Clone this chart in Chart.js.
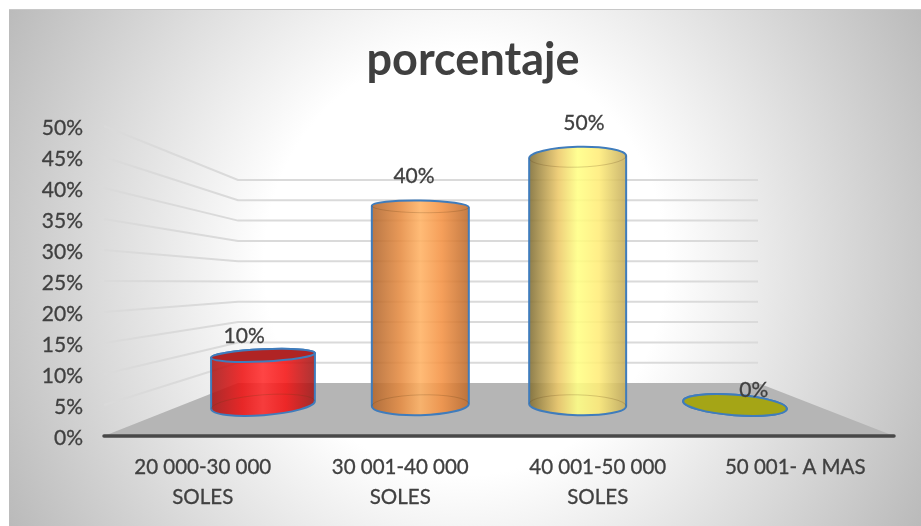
<!DOCTYPE html>
<html>
<head>
<meta charset="utf-8">
<title>porcentaje</title>
<script src="https://cdn.jsdelivr.net/npm/chart.js@4/dist/chart.umd.js"></script>
<style>
  body { margin: 0; background: #fff; }
  canvas { display: block; }
</style>
</head>
<body>
<canvas id="grafico" width="921" height="526"></canvas>
<script>
// Datos
var titulo = 'porcentaje';
var categorias = [['20 000-30 000', 'SOLES'], ['30 001-40 000', 'SOLES'], ['40 001-50 000', 'SOLES'], '50 001- A MAS'];
var valores = [10, 40, 50, 0];

// Colores de cada cilindro
var gradientes = [
  ['#a81818', '#ee1414', '#ff2c2c', '#f41414', '#a01818'],
  ['#b0652c', '#e68c42', '#ffb264', '#f49244', '#bc6a2c'],
  ['#7f6d34', '#ecc868', '#ffff84', '#ffec78', '#c4ac5c'],
  ['#a5a516', '#a5a516', '#a5a516', '#a5a516', '#a5a516']
];
var coloresTapa = ['#b02424', '#ffa050', '#ffe680', '#a5a516'];
var azulBorde = '#3f7cbc';
var colorTexto = '#404040';
var fuente = 'Lato, "Open Sans", sans-serif';

// Fondo con degradado radial
var fondoPlugin = {
  id: 'fondo',
  beforeDraw: function (chart) {
    var ctx = chart.ctx;
    ctx.save();
    ctx.fillStyle = '#fff';
    ctx.fillRect(0, 0, chart.width, chart.height);
    ctx.beginPath();
    ctx.rect(9, 9, chart.width - 9, chart.height - 9);
    ctx.clip();
    ctx.save();
    ctx.translate(465, 263);
    ctx.scale(480, 508);
    var g = ctx.createRadialGradient(0, 0, 0, 0, 0, 1.1);
    g.addColorStop(0, '#fff');
    g.addColorStop(0.38, '#fff');
    g.addColorStop(1, '#b8b8b8');
    ctx.fillStyle = g;
    ctx.fillRect(-2, -2, 4, 4);
    ctx.restore();
    ctx.fillStyle = '#bcbcbc';
    ctx.fillRect(9, 9, 1, chart.height);
    ctx.fillStyle = '#c8c8c8';
    ctx.fillRect(9, 9, chart.width, 1);
    ctx.restore();
  }
};

// Paredes y piso en perspectiva, sacados de las escalas
var paredesPlugin = {
  id: 'paredes',
  beforeDatasetsDraw: function (chart) {
    var ctx = chart.ctx;
    var area = chart.chartArea;
    var frente = chart.scales.y;
    var fondo = chart.scales.yFondo;
    var xIzq = 238, xDer = 758;

    ctx.save();
    ctx.strokeStyle = '#dadada';
    ctx.lineWidth = 2;
    frente.ticks.forEach(function (t) {
      if (t.value === 0) return;
      ctx.beginPath();
      ctx.moveTo(area.left, frente.getPixelForValue(t.value));
      ctx.lineTo(xIzq, fondo.getPixelForValue(t.value));
      ctx.lineTo(xDer, fondo.getPixelForValue(t.value));
      ctx.stroke();
    });

    // piso
    ctx.fillStyle = '#b5b5b5';
    ctx.beginPath();
    ctx.moveTo(area.left, frente.getPixelForValue(0));
    ctx.lineTo(xIzq, fondo.getPixelForValue(0));
    ctx.lineTo(xDer, fondo.getPixelForValue(0));
    ctx.lineTo(area.right, frente.getPixelForValue(0));
    ctx.closePath();
    ctx.fill();

    // eje frontal
    ctx.strokeStyle = '#484848';
    ctx.lineWidth = 3.5;
    ctx.lineCap = 'round';
    ctx.beginPath();
    ctx.moveTo(area.left, frente.getPixelForValue(0));
    ctx.lineTo(area.right, frente.getPixelForValue(0));
    ctx.stroke();
    ctx.restore();
  }
};

// Etiquetas de valor encima de cada cilindro
var etiquetasPlugin = {
  id: 'etiquetas',
  afterDatasetsDraw: function (chart) {
    var ctx = chart.ctx;
    var xc = (chart.chartArea.left + chart.chartArea.right) / 2;
    ctx.save();
    ctx.font = '21px ' + fuente;
    ctx.fillStyle = colorTexto;
    ctx.strokeStyle = colorTexto;
    ctx.lineWidth = 0.3;
    ctx.textAlign = 'center';
    ctx.textBaseline = 'middle';
    chart.getDatasetMeta(0).data.forEach(function (el, i) {
      var x = el.x + (el.x - xc) * 0.08;
      var y = el.y - 15 - (el.base - el.y) * 0.077;
      ctx.fillText(valores[i] + '%', x, y);
      ctx.strokeText(valores[i] + '%', x, y);
    });
    ctx.restore();
  }
};

function dibujaCilindro(ctx, el, i, chart) {
  var xc = (chart.chartArea.left + chart.chartArea.right) / 2;
  var ojo = chart.scales.y.getPixelForValue(25);
  var rx = el.width / 2 + (Math.abs(el.x - xc) > 200 ? 3.5 : 0);
  var radioY = function (py) { return Math.abs(py - ojo) * 0.082; };
  var giro = function (py) { return 1.5e-4 * (el.x - xc) * (py - ojo) * Math.PI / 180; };
  var arriba = el.y, abajo = el.base;

  var g = ctx.createLinearGradient(el.x - rx, 0, el.x + rx, 0);
  gradientes[i].forEach(function (c, k) {
    g.addColorStop([0, 0.3, 0.5, 0.72, 1][k], c);
  });

  ctx.save();
  ctx.lineWidth = 2;
  ctx.strokeStyle = azulBorde;

  ctx.beginPath();
  ctx.ellipse(el.x, arriba, rx, radioY(arriba), giro(arriba), Math.PI, 2 * Math.PI);
  ctx.ellipse(el.x, abajo, rx, radioY(abajo), giro(abajo), 0, Math.PI);
  ctx.closePath();
  ctx.globalAlpha = 0.88;
  ctx.fillStyle = g;
  ctx.fill();
  ctx.globalAlpha = 1;
  ctx.stroke();

  // arcos interiores tenues
  ctx.lineWidth = 1;
  ctx.strokeStyle = 'rgba(90,60,20,0.22)';
  if (abajo > arriba) {
    ctx.beginPath();
    ctx.ellipse(el.x, abajo, rx, radioY(abajo), giro(abajo), Math.PI, 2 * Math.PI);
    ctx.stroke();
  }
  if (arriba < ojo) {
    ctx.beginPath();
    ctx.ellipse(el.x, arriba, rx, radioY(arriba), giro(arriba), 0, Math.PI);
    ctx.stroke();
  } else {
    // tapa vista desde arriba
    ctx.lineWidth = 2;
    ctx.strokeStyle = azulBorde;
    ctx.fillStyle = coloresTapa[i];
    ctx.beginPath();
    ctx.ellipse(el.x, arriba, rx, radioY(arriba), giro(arriba), 0, 2 * Math.PI);
    ctx.fill();
    ctx.stroke();
  }
  ctx.restore();
}

// Controlador de barras que pinta cilindros
class CilindroController extends Chart.BarController {
  draw() {
    var chart = this.chart;
    this.getMeta().data.forEach(function (el, i) {
      dibujaCilindro(chart.ctx, el, i, chart);
    });
  }
}
CilindroController.id = 'cilindro';
CilindroController.defaults = Chart.BarController.defaults;
Chart.register(CilindroController);

new Chart(document.getElementById('grafico'), {
  type: 'cilindro',
  data: {
    labels: categorias,
    datasets: [{
      data: valores.map(function (v, i) { return { x: i, y: v }; }),
      xAxisID: 'xBarras',
      yAxisID: 'yBarras',
      barThickness: 97
    }]
  },
  options: {
    responsive: false,
    animation: false,
    layout: { padding: { left: 25 } },
    plugins: {
      legend: { display: false },
      tooltip: { enabled: false },
      title: {
        display: true,
        text: titulo,
        color: colorTexto,
        font: { family: fuente, size: 45, weight: 'bold', lineHeight: 1.2 },
        padding: { top: 33, bottom: 39 }
      }
    },
    scales: {
      x: {
        type: 'category',
        labels: categorias,
        offset: true,
        grid: { display: false },
        border: { display: false },
        ticks: {
          color: colorTexto,
          font: { family: fuente, size: 20.5, lineHeight: 1.47 },
          textStrokeColor: colorTexto,
          textStrokeWidth: 0.3,
          padding: 8,
          autoSkip: false,
          maxRotation: 0
        },
        afterFit: function (s) { s.height = 90; }
      },
      y: {
        type: 'linear',
        position: 'left',
        min: 0,
        max: 50,
        grid: { display: false },
        border: { display: false },
        ticks: {
          stepSize: 5,
          color: colorTexto,
          font: { family: fuente, size: 21 },
          textStrokeColor: colorTexto,
          textStrokeWidth: 0.3,
          padding: 13,
          labelOffset: 2,
          callback: function (v) { return v + '%'; }
        },
        afterFit: function (s) { s.width = 79; }
      },
      // pared del fondo: tambien reserva el margen derecho
      yFondo: {
        type: 'linear',
        position: 'right',
        min: -13.05,
        max: 63.3,
        bounds: 'data',
        grid: { display: false },
        border: { display: false },
        ticks: { display: false },
        afterFit: function (s) { s.width = 27; }
      },
      // escalas de los cilindros, a media profundidad
      xBarras: { type: 'linear', display: false, offset: false, bounds: 'data', min: -1.0106, max: 4.0107 },
      yBarras: { type: 'linear', display: false, bounds: 'data', min: -6.25, max: 56.25 }
    }
  },
  plugins: [fondoPlugin, paredesPlugin, etiquetasPlugin]
});
</script>
</body>
</html>
